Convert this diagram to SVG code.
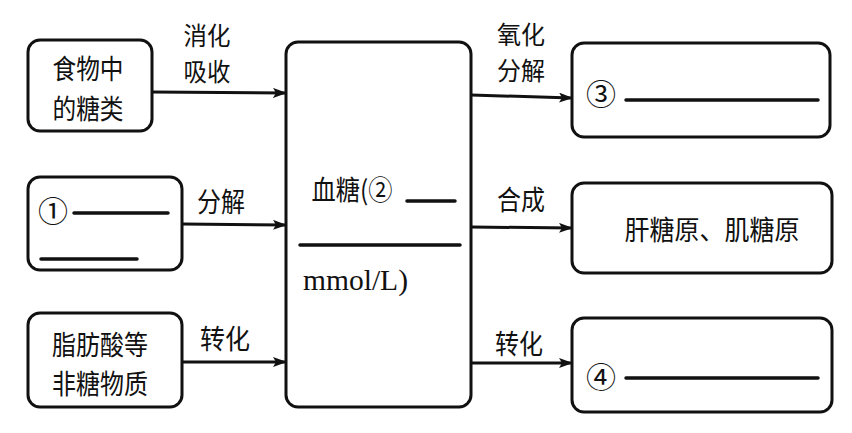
<svg xmlns="http://www.w3.org/2000/svg" width="852" height="433" viewBox="0 0 852 433">
<style>
.box{fill:#fff;stroke:#111;stroke-width:3}
.t{font-family:"Noto Sans CJK SC","Noto Sans CJK JP",sans-serif;font-size:27px;fill:#111;text-anchor:middle;dominant-baseline:central}
.l{font-size:25px}
.c{font-family:"Noto Sans CJK SC","Noto Sans CJK JP",sans-serif;font-size:30px;fill:#111;dominant-baseline:central}
.s{font-family:"Liberation Serif","Noto Sans CJK SC",serif;font-size:29px;fill:#111}
.ln{stroke:#111;stroke-width:3.5;stroke-linecap:round}
.ar{stroke:#111;stroke-width:3;fill:none;marker-end:url(#ah)}
</style>
<defs>
<marker id="ah" markerWidth="14" markerHeight="10" refX="13" refY="5" orient="auto" markerUnits="userSpaceOnUse">
<path d="M0,0 L14,5 L0,10 L3,5 Z" fill="#111"/>
</marker>
</defs>
<rect width="852" height="433" fill="#fff"/>
<g id="connectors">
<line class="ar" x1="152" y1="92" x2="286" y2="93"/>
<line class="ar" x1="182" y1="224" x2="286" y2="225"/>
<line class="ar" x1="182" y1="362" x2="286" y2="362"/>
<line class="ar" x1="471" y1="95" x2="572" y2="98"/>
<line class="ar" x1="471" y1="227" x2="572" y2="228"/>
<line class="ar" x1="471" y1="363" x2="572" y2="363"/>
<text class="t l" x="207" y="34" textLength="47" lengthAdjust="spacingAndGlyphs">消化</text>
<text class="t l" x="207" y="70" textLength="47" lengthAdjust="spacingAndGlyphs">吸收</text>
<text class="t" x="221" y="200" textLength="48" lengthAdjust="spacingAndGlyphs">分解</text>
<text class="t" x="225" y="337" textLength="50" lengthAdjust="spacingAndGlyphs">转化</text>
<text class="t l" x="521" y="33" textLength="48" lengthAdjust="spacingAndGlyphs">氧化</text>
<text class="t l" x="521" y="69" textLength="48" lengthAdjust="spacingAndGlyphs">分解</text>
<text class="t" x="521" y="198" textLength="48" lengthAdjust="spacingAndGlyphs">合成</text>
<text class="t" x="519" y="342" textLength="48" lengthAdjust="spacingAndGlyphs">转化</text>
</g>
<g id="n-food">
<rect class="box" x="28" y="40" width="124" height="91" rx="12"/>
<text class="t" x="88" y="67" textLength="71" lengthAdjust="spacingAndGlyphs">食物中</text>
<text class="t" x="88" y="107" textLength="71" lengthAdjust="spacingAndGlyphs">的糖类</text>
</g>
<g id="n-1">
<rect class="box" x="28" y="177" width="154" height="93" rx="12"/>
<text class="c" x="38" y="209">①</text>
<line class="ln" x1="74" y1="213" x2="168" y2="213"/>
<line class="ln" x1="41" y1="259" x2="137" y2="259"/>
</g>
<g id="n-fat">
<rect class="box" x="28" y="313" width="154" height="94" rx="12"/>
<text class="t" x="100" y="343" textLength="96" lengthAdjust="spacingAndGlyphs">脂肪酸等</text>
<text class="t" x="100" y="382" textLength="96" lengthAdjust="spacingAndGlyphs">非糖物质</text>
</g>
<g id="n-blood">
<rect class="box" x="286" y="42" width="185" height="365" rx="12"/>
<text class="t" x="352" y="188" textLength="81" lengthAdjust="spacingAndGlyphs">血糖(②</text>
<line class="ln" x1="407" y1="201" x2="455" y2="201"/>
<line class="ln" x1="300" y1="245" x2="460" y2="245"/>
<text class="s" x="303" y="290" textLength="105" lengthAdjust="spacingAndGlyphs">mmol/L)</text>
</g>
<g id="n-3">
<rect class="box" x="572" y="43" width="258" height="94" rx="12"/>
<text class="c" x="586" y="92">③</text>
<line class="ln" x1="626" y1="100" x2="818" y2="100"/>
</g>
<g id="n-glycogen">
<rect class="box" x="572" y="183" width="260" height="90" rx="12"/>
<text class="t" x="712" y="228" textLength="175" lengthAdjust="spacingAndGlyphs">肝糖原、肌糖原</text>
</g>
<g id="n-4">
<rect class="box" x="572" y="318" width="260" height="94" rx="12"/>
<text class="c" x="586" y="375">④</text>
<line class="ln" x1="626" y1="378" x2="818" y2="378"/>
</g>
</svg>
